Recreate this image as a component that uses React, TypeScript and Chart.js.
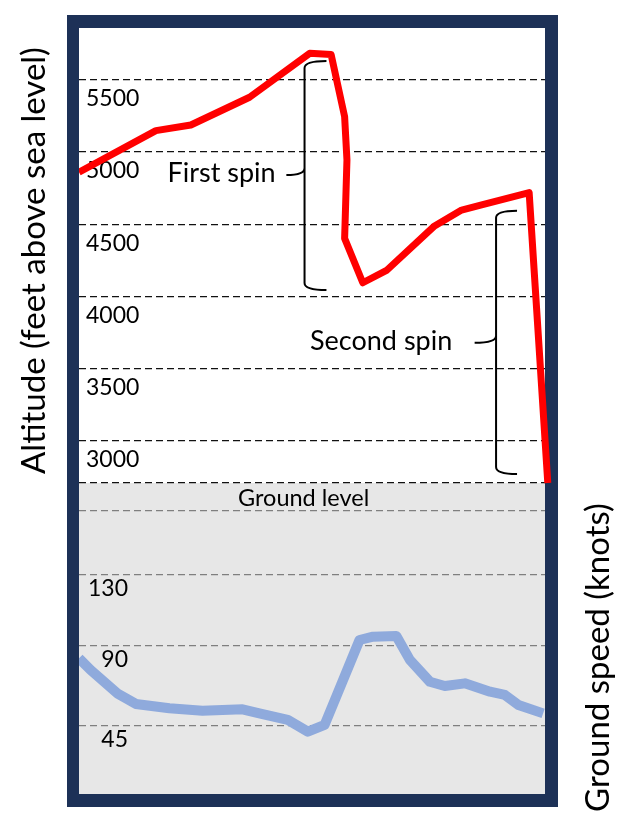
import React, { useEffect, useRef } from 'react';
import { Chart, registerables } from 'chart.js';
import type { Plugin } from 'chart.js';

Chart.register(...registerables);

// Time along the jump, 0..100 (the picture has no time axis, so it is unitless)
const ALT_TIME = [0, 16.5, 24.0, 36.6, 49.5, 54.1, 57.0, 57.5, 57.0, 60.9, 66.1, 76.3, 82.1, 86.4, 96.6, 100.6];
const ALT_FEET = [4859, 5147, 5186, 5378, 5682, 5674, 5244, 4944, 4402, 4095, 4183, 4488, 4598, 4633, 4718, 2710];

const SPEED_TIME = [0, 2.5, 8.2, 12.2, 19.4, 26.5, 35.1, 38.7, 44.8, 49.1, 52.7, 55.2, 60.2, 63.1, 68.1, 71.0, 75.3, 78.5, 82.8, 88.2, 91.4, 94.3, 99.6];
const SPEED_KNOTS = [83.1, 76.5, 63.4, 57.4, 55.0, 53.6, 54.4, 52.1, 48.4, 41.8, 45.6, 61.5, 93.4, 95.3, 95.7, 82.2, 69.9, 67.5, 69.0, 64.3, 62.5, 56.8, 52.1];

const ALT_TICKS = [3000, 3500, 4000, 4500, 5000, 5500];
const SPEED_TICKS = [45, 90, 130];
const GROUND_FEET = 2710;
const SPEED_LINE_TOP = 166; // unlabelled dashed line under "Ground level"

const SPINS = [
  { label: 'First spin', x: 48.4, hookX: 53.1, tipX: 44.5, textX: 42.2, top: 5629, mid: 4840, bottom: 4045 },
  { label: 'Second spin', x: 89.5, hookX: 94.0, tipX: 84.9, textX: 80.1, top: 4593, mid: 3680, bottom: 2772 },
];

const FONT = 'Lato, "Open Sans", sans-serif';
const NAVY = '#1d3157';

const decor: Plugin<'line'> = {
  id: 'flightDecor',
  beforeDraw(chart) {
    const { ctx, chartArea } = chart;
    const spd = chart.scales.speed;
    ctx.save();
    ctx.fillStyle = '#ffffff';
    ctx.fillRect(chartArea.left, chartArea.top, chartArea.width, chartArea.height);
    ctx.fillStyle = '#e7e7e7';
    ctx.fillRect(chartArea.left, spd.top, chartArea.width, spd.bottom - spd.top);
    ctx.restore();
  },
  afterDatasetsDraw(chart) {
    const { ctx } = chart;
    const xs = chart.scales.x;
    const alt = chart.scales.alt;
    const spd = chart.scales.speed;
    ctx.save();
    ctx.strokeStyle = '#000';
    ctx.lineWidth = 2;
    ctx.fillStyle = '#000';
    ctx.font = `27px ${FONT}`;
    ctx.textAlign = 'right';
    ctx.textBaseline = 'alphabetic';
    SPINS.forEach(s => {
      const x = xs.getPixelForValue(s.x);
      const hx = xs.getPixelForValue(s.hookX);
      const tx = xs.getPixelForValue(s.tipX);
      const yt = alt.getPixelForValue(s.top);
      const ym = alt.getPixelForValue(s.mid);
      const yb = alt.getPixelForValue(s.bottom);
      const r = 7;
      ctx.beginPath();
      ctx.moveTo(hx, yt);
      ctx.quadraticCurveTo(x, yt, x, yt + r);
      ctx.lineTo(x, ym - r);
      ctx.quadraticCurveTo(x, ym, tx, ym);
      ctx.moveTo(x, ym - r);
      ctx.quadraticCurveTo(x, ym, x, ym + r);
      ctx.lineTo(x, yb - r);
      ctx.quadraticCurveTo(x, yb, hx, yb);
      ctx.stroke();
      ctx.fillText(s.label, xs.getPixelForValue(s.textX), ym + 7);
    });
    ctx.font = `23.5px ${FONT}`;
    ctx.textAlign = 'center';
    ctx.fillText('Ground level', xs.getPixelForValue(48.2), spd.top + 23);
    ctx.restore();
  },
  afterDraw(chart) {
    const { ctx, chartArea } = chart;
    const alt = chart.scales.alt;
    const spd = chart.scales.speed;
    ctx.save();
    ctx.fillStyle = '#000';
    ctx.font = `33px ${FONT}`;
    ctx.textAlign = 'center';
    ctx.textBaseline = 'middle';
    ctx.translate(chartArea.left - 45, (alt.top + alt.bottom) / 2 + 5);
    ctx.rotate(-Math.PI / 2);
    ctx.fillText('Altitude (feet above sea level)', 0, 0);
    ctx.restore();
    ctx.save();
    ctx.fillStyle = '#000';
    ctx.font = `33px ${FONT}`;
    ctx.textAlign = 'center';
    ctx.textBaseline = 'middle';
    ctx.translate(chartArea.right + 53, (spd.top + spd.bottom) / 2 + 19);
    ctx.rotate(-Math.PI / 2);
    ctx.fillText('Ground speed (knots)', 0, 0);
    ctx.restore();
  },
};

const App: React.FC = () => {
  const canvasRef = useRef<HTMLCanvasElement>(null);

  useEffect(() => {
    if (!canvasRef.current) return;
    const chart = new Chart(canvasRef.current, {
      type: 'line',
      data: {
        datasets: [
          {
            label: 'Altitude',
            data: ALT_TIME.map((t, i) => ({ x: t, y: ALT_FEET[i] })),
            yAxisID: 'alt',
            borderColor: '#ff0000',
            borderWidth: 7,
            borderJoinStyle: 'round',
            pointRadius: 0,
            tension: 0,
            clip: { left: 0, top: 10, right: 10, bottom: 10 },
          },
          {
            label: 'Ground speed',
            data: SPEED_TIME.map((t, i) => ({ x: t, y: SPEED_KNOTS[i] })),
            yAxisID: 'speed',
            borderColor: '#8faadc',
            borderWidth: 10,
            borderJoinStyle: 'round',
            pointRadius: 0,
            tension: 0,
            clip: 0,
          },
        ],
      },
      options: {
        responsive: true,
        maintainAspectRatio: false,
        animation: false,
        events: [],
        layout: { padding: { left: 67, top: 28, right: 83, bottom: 24 } },
        plugins: { legend: { display: false }, tooltip: { enabled: false } },
        scales: {
          x: { type: 'linear', min: 0, max: 100, display: false },
          // stacked left axes: the later one is placed on top
          speed: {
            type: 'linear',
            position: 'left',
            stack: 'flight',
            stackWeight: 311,
            min: 6.7,
            max: 181.8,
            afterBuildTicks: (scale) => {
              scale.ticks = [...SPEED_TICKS, SPEED_LINE_TOP].map(v => ({ value: v }));
            },
            grid: { color: '#7f7f7f', lineWidth: 1.3, drawTicks: false },
            border: { display: false, dash: [7, 4] },
            ticks: {
              mirror: true,
              crossAlign: 'far',
              padding: 7,
              labelOffset: 14,
              color: '#000',
              font: { family: FONT, size: 23 },
              callback: (v) => (SPEED_TICKS.includes(Number(v)) ? String(v) : ''),
            },
          },
          alt: {
            type: 'linear',
            position: 'left',
            stack: 'flight',
            stackWeight: 455,
            min: GROUND_FEET,
            max: 5857,
            afterBuildTicks: (scale) => {
              scale.ticks = [GROUND_FEET, ...ALT_TICKS].map(v => ({ value: v }));
            },
            grid: { color: '#111', lineWidth: 1.3, drawTicks: false },
            border: { display: false, dash: [7, 4] },
            ticks: {
              mirror: true,
              padding: 5,
              labelOffset: 19,
              color: '#000',
              font: { family: FONT, size: 23 },
              callback: (v) => (ALT_TICKS.includes(Number(v)) ? String(v) : ''),
            },
          },
        },
      },
      plugins: [decor],
    });
    return () => chart.destroy();
  }, []);

  return (
    <div style={{ position: 'absolute', left: 0, top: 0, width: 628, height: 818, background: '#fff' }}>
      <div
        style={{
          position: 'absolute',
          left: 67,
          top: 15,
          width: 491,
          height: 792,
          boxSizing: 'border-box',
          border: `13px solid ${NAVY}`,
          background: '#fff',
        }}
      />
      <canvas ref={canvasRef} style={{ position: 'absolute', left: 0, top: 0 }} />
    </div>
  );
};

export default App;
